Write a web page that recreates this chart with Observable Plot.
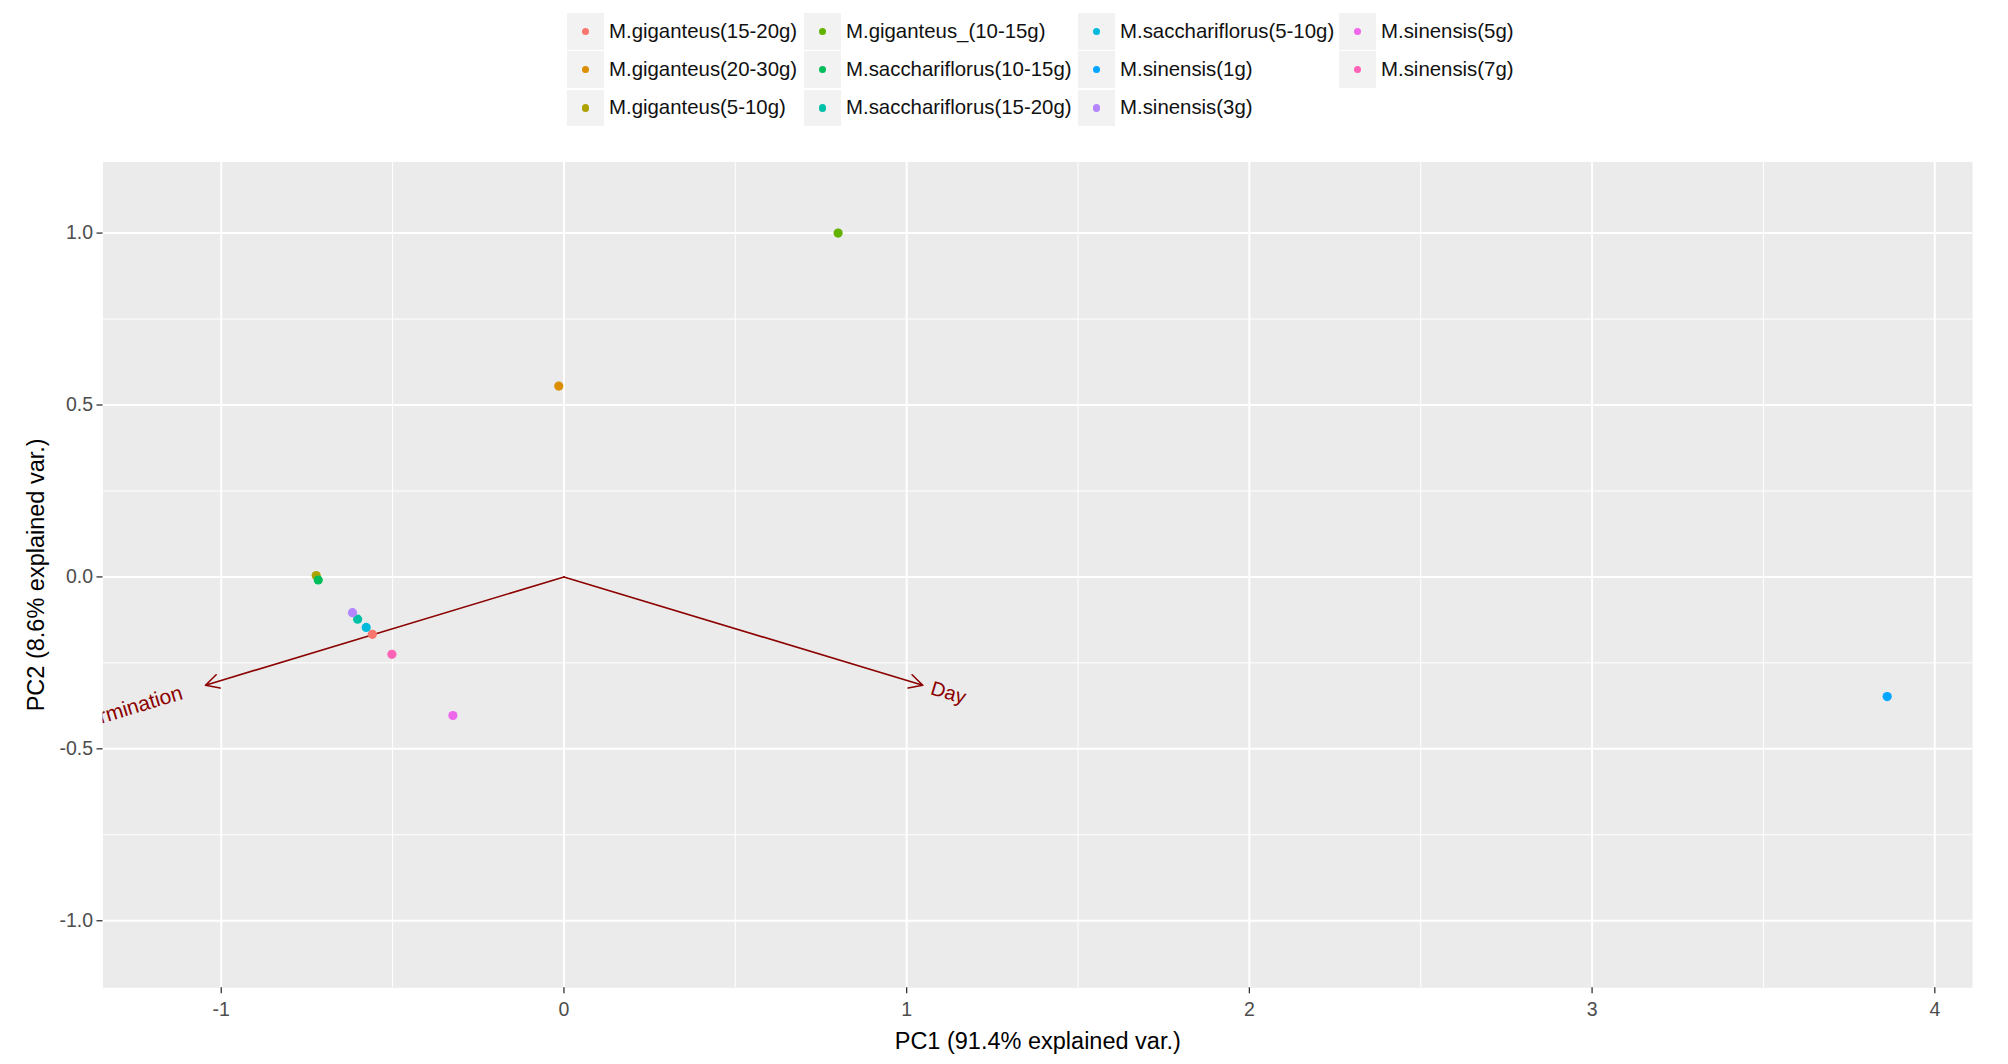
<!DOCTYPE html>
<html>
<head>
<meta charset="utf-8">
<script src="https://cdn.jsdelivr.net/npm/d3@7"></script>
<script src="https://cdn.jsdelivr.net/npm/@observablehq/plot@0.6"></script>
<style>
  html, body { margin: 0; padding: 0; background: white; }
  body { width: 2008px; height: 1064px; overflow: hidden; font-family: "Liberation Sans", Arial, sans-serif; }
  #legendWrap { position: relative; height: 130px; }
  #legend {
    position: absolute; left: 567px; top: 13px;
    display: grid; grid-auto-flow: column;
    grid-template-rows: repeat(3, 36.5px); row-gap: 1.8px;
    grid-template-columns: 237px 274px 261px auto;
  }
  .item { display: flex; align-items: center; }
  .key { width: 37px; height: 36.5px; background: #F2F2F2; position: relative; flex: none; }
  .key span { position: absolute; left: 50%; top: 50%; width: 7.5px; height: 7.5px; margin: -3.75px 0 0 -3.75px; border-radius: 50%; }
  .lab { margin-left: 5px; font-size: 20.4px; color: #111; white-space: nowrap; }
  #chart svg { display: block; }
</style>
</head>
<body>
<div id="legendWrap"><div id="legend"></div></div>
<div id="chart"></div>
<script>
// Groups (legend order) and their PCA scores
const groups = [
  "M.giganteus(15-20g)", "M.giganteus(20-30g)", "M.giganteus(5-10g)", "M.giganteus_(10-15g)",
  "M.sacchariflorus(10-15g)", "M.sacchariflorus(15-20g)", "M.sacchariflorus(5-10g)",
  "M.sinensis(1g)", "M.sinensis(3g)", "M.sinensis(5g)", "M.sinensis(7g)"
];
const pc1 = [-0.559, -0.015, -0.723, 0.800, -0.717, -0.602, -0.577, 3.861, -0.617, -0.324, -0.502];
const pc2 = [-0.167, 0.555, 0.004, 1.000, -0.009, -0.123, -0.147, -0.348, -0.104, -0.403, -0.225];
const colors = ["#F8766D", "#DB8E00", "#AEA200", "#64B200", "#00BD5C", "#00C1A7", "#00BADE", "#00A6FF", "#B385FF", "#EF67EB", "#FF63B6"];

// Variable loadings (arrows)
const varNames = ["Germination", "Day"];
const varX = [-1.046, 1.047];
const varY = [-0.315, -0.315];

// Axis ticks
const xTicks = [-1, 0, 1, 2, 3, 4];
const yTicks = [-1.0, -0.5, 0.0, 0.5, 1.0];
const xMinor = [-0.5, 0.5, 1.5, 2.5, 3.5];
const yMinor = [-0.75, -0.25, 0.25, 0.75];

const xLabel = "PC1 (91.4% explained var.)";
const yLabel = "PC2 (8.6% explained var.)";

const points = groups.map((g, i) => ({group: g, x: pc1[i], y: pc2[i]}));
const vars = varNames.map((v, i) => ({name: v, x: varX[i], y: varY[i], angle: Math.atan(varY[i] / varX[i]) * 180 / Math.PI}));

// Legend
const legend = document.getElementById("legend");
groups.forEach((g, i) => {
  const it = document.createElement("div");
  it.className = "item";
  it.innerHTML = `<div class="key"><span style="background:${colors[i]}"></span></div><div class="lab">${g}</div>`;
  legend.appendChild(it);
});

const fontFamily = "'Liberation Sans', Arial, sans-serif";

const plot = Plot.plot({
  width: 2008,
  height: 934,
  marginLeft: 102.5,
  marginRight: 36,
  marginTop: 31.4,
  marginBottom: 76.7,
  style: {fontFamily, background: "white"},
  x: {domain: [-1.345, 4.11]},
  y: {domain: [-1.195, 1.207]},
  color: {domain: groups, range: colors},
  marks: [
    Plot.frame({fill: "#EBEBEB", stroke: null}),
    Plot.ruleX(xMinor, {stroke: "white", strokeWidth: 1}),
    Plot.ruleY(yMinor, {stroke: "white", strokeWidth: 1}),
    Plot.ruleX(xTicks, {stroke: "white", strokeWidth: 2}),
    Plot.ruleY(yTicks, {stroke: "white", strokeWidth: 2}),
    Plot.axisX(xTicks, {tickSize: 6, tickPadding: 8, fontSize: 19.5, stroke: "#333333", fill: "#4D4D4D", strokeWidth: 1.3, tickFormat: d => String(d), label: null}),
    Plot.axisY(yTicks, {tickSize: 6, tickPadding: 4, fontSize: 19.5, stroke: "#333333", fill: "#4D4D4D", strokeWidth: 1.3, tickFormat: d => d.toFixed(1), label: null}),
    Plot.arrow(vars, {x1: () => 0, y1: () => 0, x2: "x", y2: "y", stroke: "#8B0000", strokeWidth: 1.6, headLength: 14, headAngle: 55}),
    Plot.dot(points, {x: "x", y: "y", fill: "group", r: 4.6, stroke: null}),
    Plot.text(vars.filter(d => d.x < 0), {x: "x", y: "y", text: "name", rotate: d => -d.angle, textAnchor: "end", lineAnchor: "middle", fill: "#8B0000", fontSize: 21, dx: -23.5, dy: 7.1, clip: true}),
    Plot.text(vars.filter(d => d.x > 0), {x: "x", y: "y", text: "name", rotate: d => -d.angle, textAnchor: "start", lineAnchor: "middle", fill: "#8B0000", fontSize: 20, dx: 8.5, dy: 2.6, clip: true}),
    Plot.text([xLabel], {frameAnchor: "bottom", text: d => d, dy: 54, textAnchor: "middle", lineAnchor: "middle", fontSize: 23.5, fill: "black"}),
    Plot.text([yLabel], {frameAnchor: "left", text: d => d, dx: -66.5, rotate: -90, textAnchor: "middle", lineAnchor: "middle", fontSize: 23.5, fill: "black"})
  ]
});
document.getElementById("chart").appendChild(plot);
</script>
</body>
</html>
